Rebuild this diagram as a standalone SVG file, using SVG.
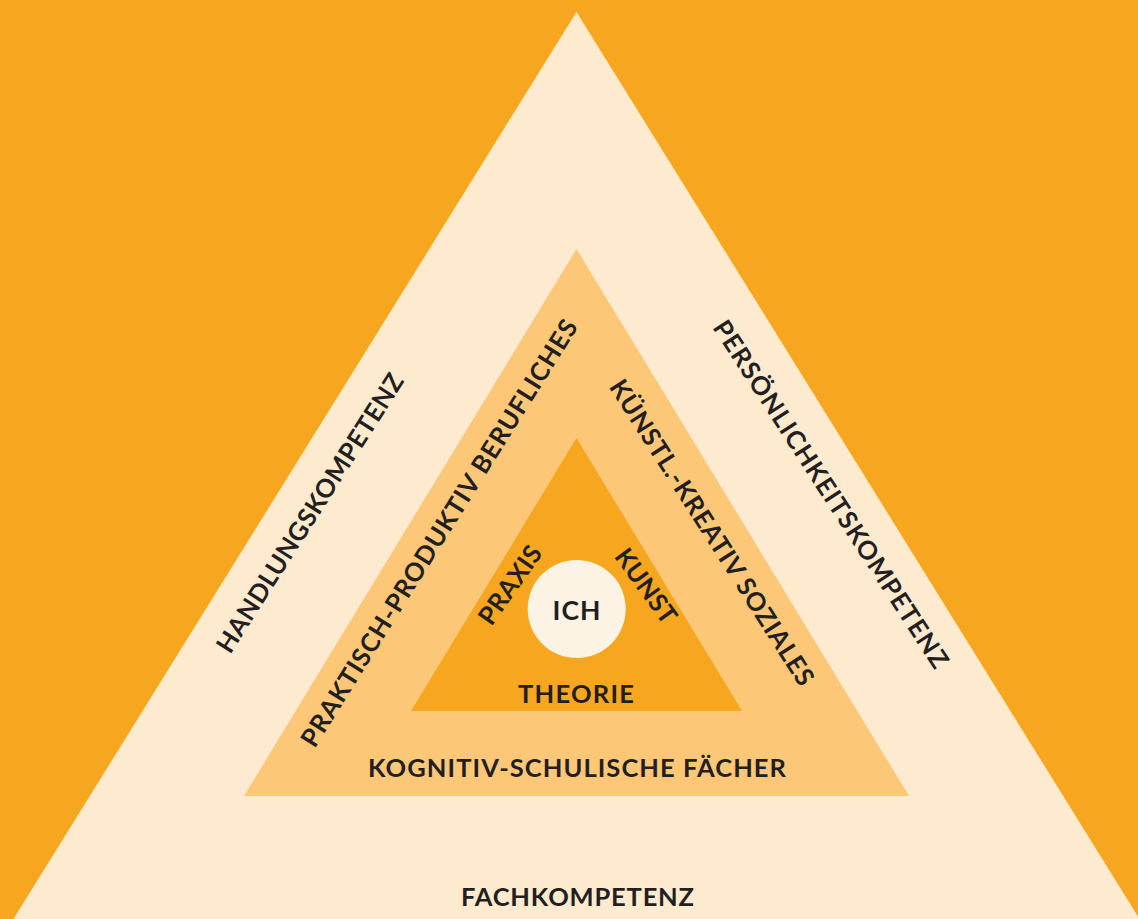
<svg xmlns="http://www.w3.org/2000/svg" width="1138" height="919" viewBox="0 0 1138 919">
  <style>
    .lbl { font-family: Lato, "Open Sans", "Liberation Sans", sans-serif; font-weight: 700; font-size: 25.5px; fill: #231f20; text-anchor: middle; }
  </style>
  <!-- background -->
  <rect x="0" y="0" width="1138" height="919" fill="#f7a71f"/>

  <!-- outer ring: competences -->
  <g id="outer">
    <polygon points="576.5,12 -12,960 1165,960" fill="#feeacf"/>
    <text class="lbl" x="577.5" y="906" textLength="233" lengthAdjust="spacing">FACHKOMPETENZ</text>
    <g transform="translate(310,513) rotate(-57.5)">
      <text class="lbl" x="0" y="9" textLength="325" lengthAdjust="spacing">HANDLUNGSKOMPETENZ</text>
    </g>
    <g transform="translate(831,494) rotate(57)">
      <text class="lbl" x="0" y="9" textLength="409" lengthAdjust="spacing">PERSÖNLICHKEITSKOMPETENZ</text>
    </g>
  </g>

  <!-- middle ring: subject areas -->
  <g id="middle">
    <polygon points="576.5,249 244,796 909,796" fill="#fcc777"/>
    <text class="lbl" x="577" y="777" textLength="418" lengthAdjust="spacing">KOGNITIV-SCHULISCHE FÄCHER</text>
    <g transform="translate(439,533) rotate(-58)">
      <text class="lbl" x="0" y="9" textLength="498" lengthAdjust="spacing">PRAKTISCH-PRODUKTIV BERUFLICHES</text>
    </g>
    <g transform="translate(712,532.5) rotate(57.5)">
      <text class="lbl" x="0" y="9" textLength="357" lengthAdjust="spacing">KÜNSTL.-KREATIV SOZIALES</text>
    </g>
  </g>

  <!-- inner triangle -->
  <g id="inner">
    <polygon points="576.5,438 411,711 742,711" fill="#f7a71f"/>
    <text class="lbl" x="576" y="703" textLength="116" lengthAdjust="spacing">THEORIE</text>
    <g transform="translate(510,585) rotate(-55)">
      <text class="lbl" x="0" y="9" textLength="90" lengthAdjust="spacing">PRAXIS</text>
    </g>
    <g transform="translate(646,586) rotate(54)">
      <text class="lbl" x="0" y="9" textLength="86" lengthAdjust="spacing">KUNST</text>
    </g>
  </g>

  <!-- centre -->
  <g id="ich">
    <circle cx="576.7" cy="609" r="49" fill="#fdf3e4"/>
    <text class="lbl" x="576.5" y="619.5" style="font-size:26.5px" textLength="48" lengthAdjust="spacing">ICH</text>
  </g>
</svg>
